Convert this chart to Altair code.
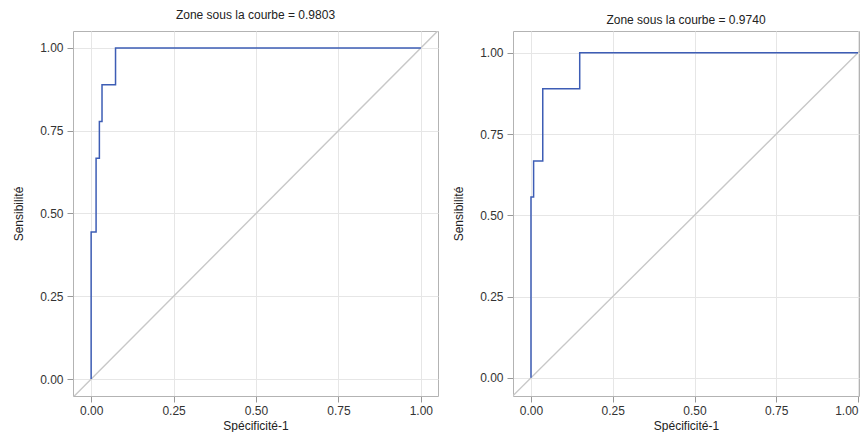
import altair as alt
import pandas as pd

FONT = "Liberation Sans"

# Left panel ROC vertices (Spécificité-1, Sensibilité)
left_fpr = [0.0, 0.0, 0.015, 0.015, 0.025, 0.025, 0.033, 0.033, 0.074, 0.074, 1.0]
left_tpr = [0.0, 0.444, 0.444, 0.667, 0.667, 0.778, 0.778, 0.889, 0.889, 1.0, 1.0]
left_title = "Zone sous la courbe = 0.9803"

# Right panel ROC vertices
right_fpr = [0.0, 0.0, 0.008, 0.008, 0.036, 0.036, 0.149, 0.149, 1.0]
right_tpr = [0.0, 0.556, 0.556, 0.667, 0.667, 0.889, 0.889, 1.0, 1.0]
right_title = "Zone sous la courbe = 0.9740"

tick_values = [0.0, 0.25, 0.5, 0.75, 1.0]
diag_vals = [-0.1, 1.1]

x_title = "Spécificité-1"
y_title = "Sensibilité"


def panel(fpr, tpr, title, xdom, ydom, w, h, tdy, xalign):
    roc = pd.DataFrame({"x": fpr, "y": tpr, "o": list(range(len(fpr)))})
    diag = pd.DataFrame({"x": diag_vals, "y": diag_vals})
    xs = alt.Scale(domain=xdom, nice=False, zero=False)
    ys = alt.Scale(domain=ydom, nice=False, zero=False)
    xax = alt.Axis(values=tick_values, format=".2f", title=x_title, labelAlign=xalign)
    yax = alt.Axis(values=tick_values, format=".2f", title=y_title)
    d = alt.Chart(diag).mark_line(color="#c8c8c8", strokeWidth=1.4, clip=True).encode(
        x=alt.X("x:Q", scale=xs, axis=xax),
        y=alt.Y("y:Q", scale=ys, axis=yax),
    )
    r = alt.Chart(roc).mark_line(color="#3d5db5", strokeWidth=1.5, clip=True).encode(
        x=alt.X("x:Q", scale=xs, axis=xax),
        y=alt.Y("y:Q", scale=ys, axis=yax),
        order="o:Q",
    )
    return alt.layer(d, r).properties(
        width=w,
        height=h,
        title=alt.TitleParams(
            text=title,
            font=FONT,
            fontSize=12,
            fontWeight="normal",
            color="#222222",
            offset=9,
            dy=tdy,
            anchor="middle",
            frame="group",
        ),
    )


left = panel(left_fpr, left_tpr, left_title, [-0.055, 1.052], [-0.051, 1.051],
             365, 365, 0, "center")
right = panel(right_fpr, right_tpr, right_title, [-0.055, 1.003], [-0.056, 1.067],
              346, 365, 5, {"expr": "datum.value >= 1 ? 'right' : 'center'"})

chart = (
    alt.hconcat(left, right, spacing=13)
    .properties(padding={"left": 4, "top": 0, "right": 0, "bottom": 0}, background="white")
    .configure_view(stroke="#b3b3b3", strokeWidth=1)
    .configure_axis(
        labelFont=FONT,
        labelFontSize=12,
        labelColor="#333333",
        titleFont=FONT,
        titleFontSize=12,
        titleFontWeight="normal",
        titleColor="#222222",
        tickColor="#999999",
        tickSize=6,
        labelPadding=4,
        gridColor="#e6e6e6",
        domain=False,
        labelFlush=False,
    )
    .configure_axisY(titlePadding=14)
    .configure_axisX(titlePadding=4, labelPadding=3)
)

chart.save("out.html", embed_options={"renderer": "svg", "actions": False})
